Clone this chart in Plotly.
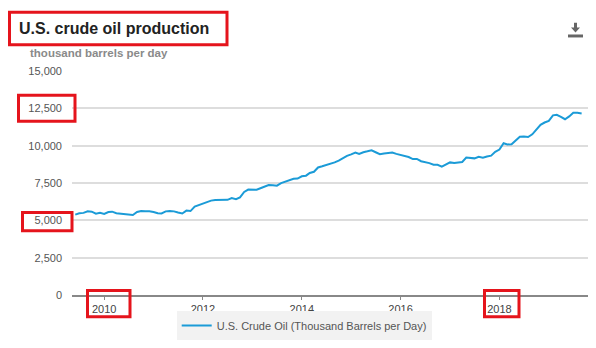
import plotly.graph_objects as go
import pandas as pd

# Monthly U.S. crude oil production, thousand barrels per day (Jun 2009 - Sep 2019)
start_month = "2009-06-01"
production = [
    5380, 5470, 5500, 5610, 5580, 5450, 5500,              # 2009 Jun-Dec
    5430, 5560, 5580, 5480, 5450, 5450, 5400, 5360, 5560, 5620, 5600, 5610,  # 2010
    5560, 5480, 5460, 5600, 5620, 5600, 5520, 5460, 5650, 5620, 5920, 6020,  # 2011
    6150, 6230, 6320, 6360, 6380, 6390, 6370, 6490, 6420, 6540, 6900, 7060,  # 2012
    7080, 7050, 7150, 7250, 7360, 7350, 7320, 7490, 7580, 7650, 7780, 7800,  # 2013
    7950, 7990, 8170, 8250, 8540, 8620, 8700, 8780, 8880, 9000, 9170, 9320,  # 2014
    9420, 9540, 9440, 9560, 9620, 9690, 9560, 9430, 9480, 9510, 9540, 9450,  # 2015
    9370, 9300, 9240, 9100, 9110, 8960, 8900, 8830, 8720, 8720, 8600, 8760,  # 2016
    8880, 8840, 8850, 8910, 9200, 9180, 9150, 9250, 9200, 9280, 9330, 9590,  # 2017
    9740, 10160, 10080, 10100, 10350, 10600, 10620, 10580, 10760, 11050, 11400, 11550,  # 2018
    11660, 12030, 12070, 11930, 11770, 11960, 12200, 12200, 12150,  # 2019 Jan-Sep
]
dates = pd.date_range(start_month, periods=len(production), freq="MS")

y_ticks = [0, 2500, 5000, 7500, 10000, 12500, 15000]
y_tick_labels = ["0", "2,500", "5,000", "7,500", "10,000", "12,500", "15,000"]

series_name = "U.S. Crude Oil (Thousand Barrels per Day)"
title_text = "U.S. crude oil production"
subtitle_text = "thousand barrels per day"

W, H = 596, 348
L, R, T, B = 72, 588, 71, 298

def px(xp):
    return (xp - L) / (R - L)

def py(yp):
    return (B - yp) / (B - T)

fig = go.Figure()
fig.add_trace(go.Scatter(
    x=dates, y=production, mode="lines", name=series_name,
    line=dict(color="#1b9bd7", width=2),
))

RED = "#e5141c"
shapes = []
def red_box(x0, y0, x1, y1):
    shapes.append(dict(type="rect", xref="paper", yref="paper",
                       x0=px(x0), x1=px(x1), y0=py(y1), y1=py(y0),
                       line=dict(color=RED, width=3), fillcolor="rgba(0,0,0,0)",
                       layer="above"))

red_box(9.5, 11.5, 227, 44.5)
red_box(18.5, 95.5, 75, 122)
red_box(22.5, 214.5, 72, 233)
red_box(87.5, 293.5, 130, 320)
red_box(484.5, 293.5, 519, 320)

# download icon
shapes.append(dict(type="rect", xref="paper", yref="paper",
                   x0=px(568), x1=px(583), y0=py(37), y1=py(34),
                   line=dict(width=0), fillcolor="#666666"))
shapes.append(dict(type="path", xref="paper", yref="paper",
                   path=f"M {px(574)},{py(22)} L {px(577)},{py(22)} L {px(577)},{py(27)} L {px(580)},{py(27)} "
                        f"L {px(575.5)},{py(32)} L {px(571)},{py(27)} L {px(574)},{py(27)} Z",
                   line=dict(width=0), fillcolor="#666666"))

fig.update_layout(
    width=W, height=H,
    margin=dict(l=L, r=W - R, t=T, b=H - B, pad=0),
    paper_bgcolor="white", plot_bgcolor="white",
    font=dict(family="Liberation Sans, Arial, sans-serif", size=11, color="#555555"),
    showlegend=True,
    legend=dict(orientation="h", x=0.45, xanchor="center", y=py(329), yanchor="middle",
                bgcolor="#f2f2f2", font=dict(size=11, color="#555555"),
                itemwidth=30),
    shapes=shapes,
    annotations=[
        dict(text=f"<b>{title_text}</b>", xref="paper", yref="paper",
             x=px(17), y=py(28), xanchor="left", yanchor="middle", showarrow=False,
             font=dict(size=16, color="#222222")),
        dict(text=f"<b>{subtitle_text}</b>", xref="paper", yref="paper",
             x=px(28), y=py(53), xanchor="left", yanchor="middle", showarrow=False,
             font=dict(size=11.5, color="#8a8a8a")),
    ],
)
fig.update_xaxes(
    range=["2009-05-08", "2019-10-18"],
    tick0="2010-01-01", dtick="M24", tickformat="%Y",
    ticks="outside", ticklen=3, tickcolor="#888888",
    showgrid=False, showline=True, linecolor="#888888", linewidth=1.5,
    tickfont=dict(size=11, color="#444444"), zeroline=False,
)
fig.update_yaxes(
    range=[0, 15000], tickvals=y_ticks, ticktext=y_tick_labels,
    showgrid=True, gridcolor="#dddddd", gridwidth=2,
    zeroline=False, showline=False, ticks="",
    ticklabelstandoff=9, tickfont=dict(size=11, color="#555555"),
)

fig.write_html("out.html")
